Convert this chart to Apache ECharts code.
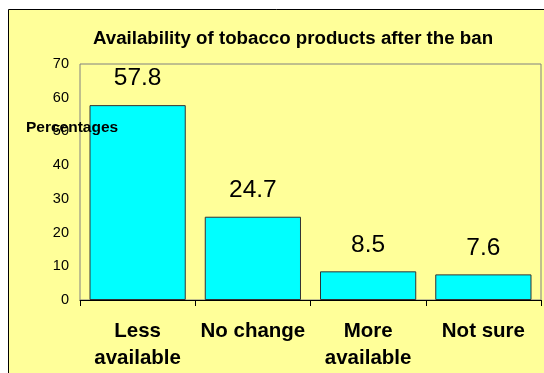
<!DOCTYPE html>
<html>
<head>
<meta charset="utf-8">
<script src="https://cdn.jsdelivr.net/npm/echarts@6/dist/echarts.min.js"></script>
<style>
html,body{margin:0;padding:0;background:#ffffff;}
#chart{width:544px;height:373px;}
</style>
</head>
<body>
<div id="chart"></div>
<script>
var categories = ['Less\navailable', 'No change', 'More\navailable', 'Not sure'];
var values = [57.8, 24.7, 8.5, 7.6];
var yTicks = [0, 10, 20, 30, 40, 50, 60, 70];
var titleText = 'Availability of tobacco products after the ban';
var yAxisTitle = 'Percentages';

var FONT = '"Liberation Sans", Arial, sans-serif';
var chart = echarts.init(document.getElementById('chart'), null, {renderer: 'canvas'});
chart.setOption({
  animation: false,
  backgroundColor: '#ffffff',
  graphic: [
    {type: 'rect', z: -10, shape: {x: 8.5, y: 9.5, width: 600, height: 400},
     style: {fill: '#FFFF99', stroke: '#000000', lineWidth: 1}},
    {type: 'text', z: 100, left: 26, top: 120,
     style: {text: yAxisTitle, font: 'bold 15.5px ' + FONT, fill: '#000000'}}
  ],
  title: {
    text: titleText,
    left: 288,
    top: 24,
    textAlign: 'center',
    textStyle: {fontFamily: FONT, fontWeight: 'bold', fontSize: 18.7, color: '#000000'}
  },
  grid: {left: 80, right: 3, top: 64, bottom: 73, show: true,
         borderColor: '#808080', borderWidth: 1, backgroundColor: 'transparent'},
  xAxis: {
    type: 'category',
    data: categories,
    axisLine: {lineStyle: {color: '#000000', width: 1}},
    axisTick: {show: true, length: 6, lineStyle: {color: '#000000'}},
    axisLabel: {fontFamily: FONT, fontWeight: 'bold', fontSize: 20.5, color: '#000000',
                lineHeight: 27, margin: 18, verticalAlign: 'top', interval: 0}
  },
  yAxis: {
    type: 'value',
    min: yTicks[0],
    max: yTicks[yTicks.length - 1],
    interval: 10,
    axisLine: {show: false},
    axisTick: {show: false},
    splitLine: {show: false},
    axisLabel: {fontFamily: FONT, fontSize: 14.5, color: '#000000', margin: 11}
  },
  series: [{
    type: 'bar',
    data: values,
    barCategoryGap: '16.5%',
    itemStyle: {color: '#00FFFF', borderColor: '#333333', borderWidth: 1},
    label: {show: true, position: 'top', distance: 14, fontFamily: FONT,
            fontSize: 24.5, color: '#000000'}
  }]
});
</script>
</body>
</html>
